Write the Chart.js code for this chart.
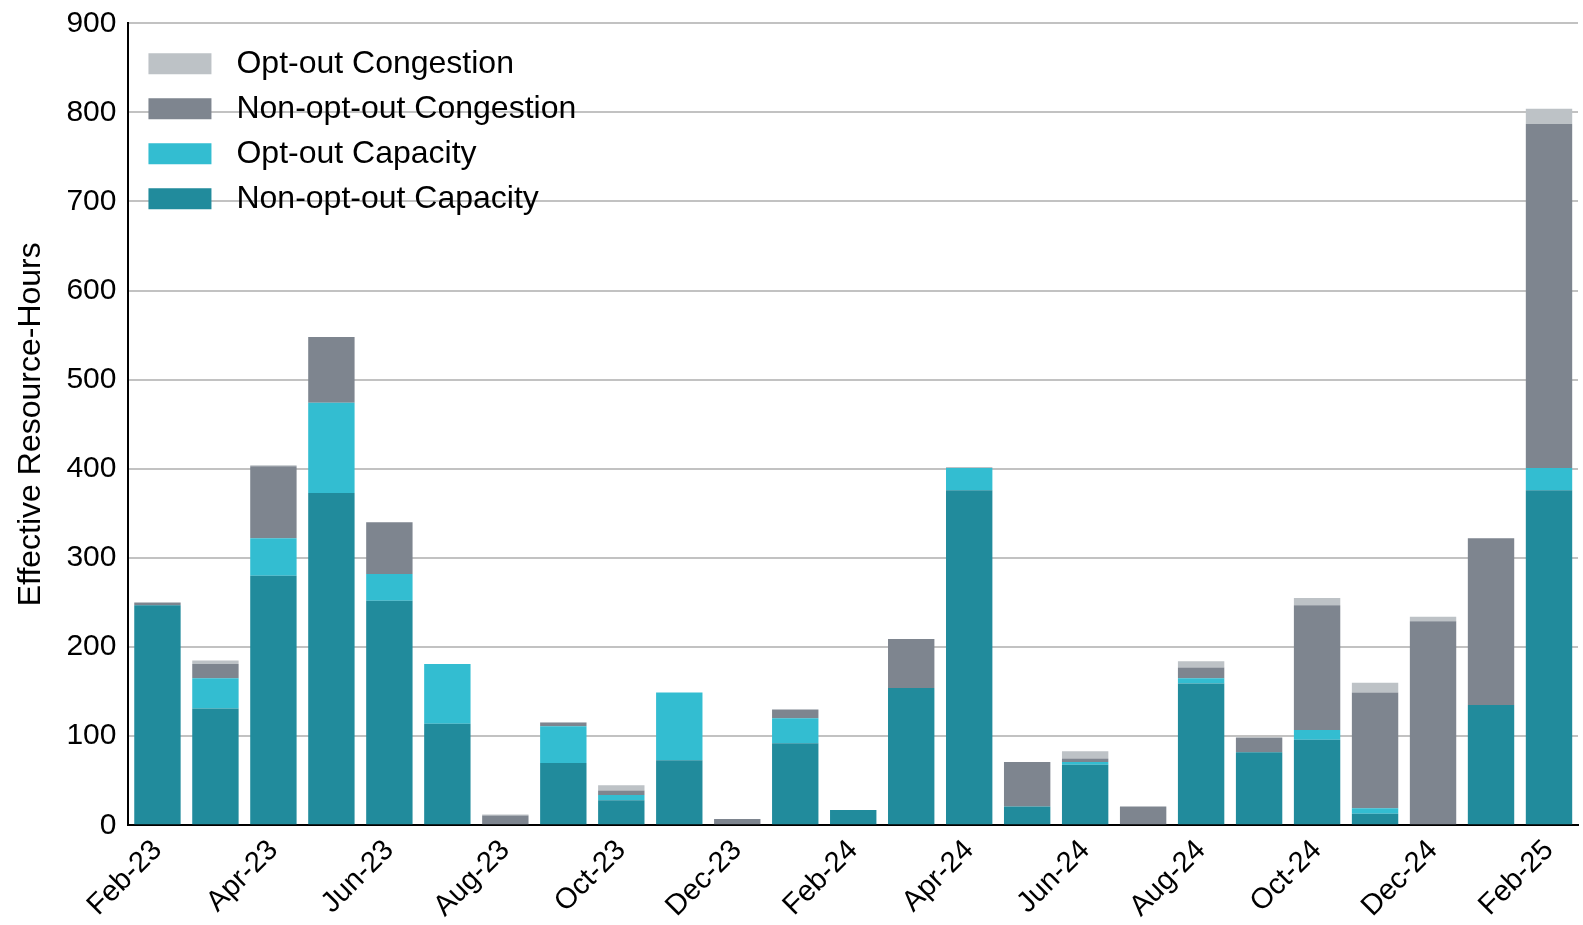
<!DOCTYPE html>
<html>
<head>
<meta charset="utf-8">
<script src="https://cdn.jsdelivr.net/npm/chart.js@4.4.1/dist/chart.umd.min.js"></script>
<style>
  html, body { margin: 0; padding: 0; background: #fff; }
  #wrap { width: 1583px; height: 925px; }
</style>
</head>
<body>
<div id="wrap"><canvas id="chart"></canvas></div>
<script>
const months = [
  "Feb-23", "Mar-23", "Apr-23", "May-23", "Jun-23", "Jul-23", "Aug-23", "Sep-23",
  "Oct-23", "Nov-23", "Dec-23", "Jan-24", "Feb-24", "Mar-24", "Apr-24", "May-24",
  "Jun-24", "Jul-24", "Aug-24", "Sep-24", "Oct-24", "Nov-24", "Dec-24", "Jan-25", "Feb-25"
];

const nonOptOutCapacity = [247, 131, 280, 373, 252, 114, 0, 70, 28, 73, 0, 92, 17, 154, 376, 21, 68, 0, 159, 82, 96, 13, 0, 135, 376];
const optOutCapacity    = [0, 34, 42, 101, 30, 67, 0, 41, 6, 76, 0, 28, 0, 0, 25, 0, 3, 0, 6, 0, 11, 6, 0, 0, 25];
const nonOptOutCongestion = [3, 16, 81, 74, 58, 0, 11, 4, 5, 0, 7, 10, 0, 55, 0, 50, 4, 21, 12, 16, 140, 130, 229, 187, 386];
const optOutCongestion  = [0, 4, 1, 0, 0, 0, 1, 1, 6, 0, 0, 0, 0, 0, 1, 0, 8, 0, 7, 1, 8, 11, 5, 0, 17];

const yTicks = [0, 100, 200, 300, 400, 500, 600, 700, 800, 900];

const FONT = "'Liberation Sans', Arial, sans-serif";

// legend drawn inside the plot, top-left, over the grid lines
const insideLegend = {
  id: "insideLegend",
  afterDraw(chart) {
    const ctx = chart.ctx;
    const area = chart.chartArea;
    const items = chart.data.datasets.slice().reverse();
    ctx.save();
    ctx.font = "32px " + FONT;
    ctx.textBaseline = "middle";
    items.forEach(function (ds, i) {
      const y = area.top + 40 + i * 45;
      ctx.fillStyle = ds.backgroundColor;
      ctx.fillRect(area.left + 20, y - 10, 63, 21);
      ctx.fillStyle = "#000";
      ctx.fillText(ds.label, area.left + 108, y + 1);
    });
    ctx.restore();
  }
};

const ctx = document.getElementById("chart").getContext("2d");

const chart = new Chart(ctx, {
  type: "bar",
  data: {
    labels: months,
    datasets: [
      { label: "Non-opt-out Capacity", data: nonOptOutCapacity, backgroundColor: "#218b9c" },
      { label: "Opt-out Capacity", data: optOutCapacity, backgroundColor: "#33bdd1" },
      { label: "Non-opt-out Congestion", data: nonOptOutCongestion, backgroundColor: "#7e858f" },
      { label: "Opt-out Congestion", data: optOutCongestion, backgroundColor: "#bdc2c6" }
    ]
  },
  options: {
    responsive: true,
    maintainAspectRatio: false,
    animation: false,
    layout: { padding: { top: 0, right: 5, left: 12, bottom: 1 } },
    datasets: {
      bar: {
        categoryPercentage: 1,
        barPercentage: 0.8,
        borderWidth: 0
      }
    },
    plugins: {
      legend: { display: false },
      tooltip: { enabled: false }
    },
    scales: {
      x: {
        stacked: true,
        grid: { display: false },
        border: { display: true, color: "#000", width: 2 },
        ticks: {
          autoSkip: false,
          maxRotation: 45,
          minRotation: 45,
          color: "#000",
          padding: 0,
          font: { family: FONT, size: 29 },
          callback: function (value, index) {
            return index % 2 === 0 ? months[index] : "";
          }
        }
      },
      y: {
        stacked: true,
        min: yTicks[0],
        max: yTicks[yTicks.length - 1],
        afterBuildTicks: function (axis) {
          axis.ticks = yTicks.map(function (v) { return { value: v }; });
        },
        grid: { color: "#c2c2c2", lineWidth: 2, drawTicks: false },
        border: { display: true, color: "#000", width: 2 },
        ticks: {
          color: "#000",
          padding: 12,
          font: { family: FONT, size: 30, lineHeight: 0.75 }
        },
        title: {
          display: true,
          text: "Effective Resource-Hours",
          color: "#000",
          padding: { top: 0, bottom: 4 },
          font: { family: FONT, size: 32 }
        }
      }
    }
  },
  plugins: [insideLegend]
});
</script>
</body>
</html>
